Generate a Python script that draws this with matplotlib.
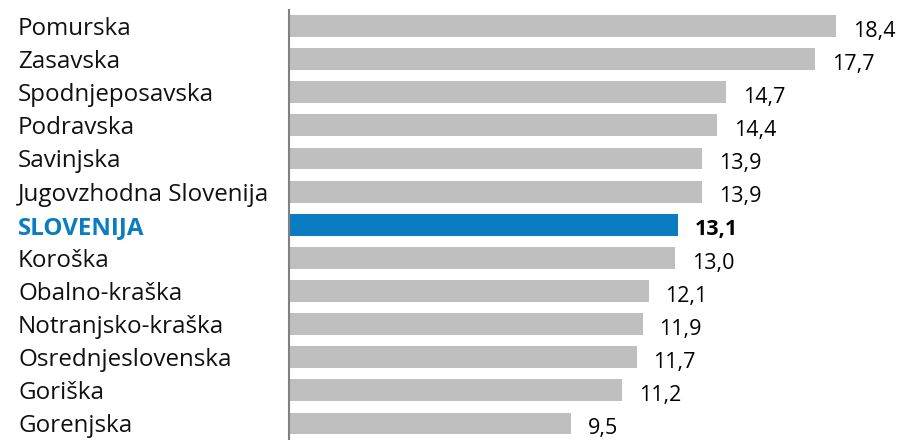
import matplotlib.pyplot as plt

# regions and their values
regije = ["Pomurska", "Zasavska", "Spodnjeposavska", "Podravska", "Savinjska",
          "Jugovzhodna Slovenija", "SLOVENIJA", "Koroška", "Obalno-kraška",
          "Notranjsko-kraška", "Osrednjeslovenska", "Goriška", "Gorenjska"]
vrednosti = [18.4, 17.7, 14.7, 14.4, 13.9, 13.9, 13.1, 13.0, 12.1, 11.9, 11.7, 11.2, 9.5]
poudarek = "SLOVENIJA"

SIVA = "#bfbfbf"
MODRA = "#0a7dc2"

plt.rcParams['font.family'] = ['Open Sans', 'DejaVu Sans']

fig = plt.figure(figsize=(9.02, 4.40), dpi=100)
ax = fig.add_axes([289 / 902, 0, (902 - 289) / 902, 430 / 440])

pos = list(range(len(regije)))
barve = [MODRA if r == poudarek else SIVA for r in regije]
ax.barh(pos, vrednosti, height=0.66, color=barve)

for i, (r, v) in enumerate(zip(regije, vrednosti)):
    txt = f"{v:.1f}".replace(".", ",")
    bold = r == poudarek
    ax.annotate(txt, (v, i), xytext=(12, -2), textcoords="offset points",
                va="center_baseline", ha="left", fontsize=15.5,
                fontweight="bold" if bold else "normal", color="black")
    ax.annotate(r, (0, i), xytext=(-271 * 0.72, 0), textcoords="offset points",
                ha="left", va="center_baseline", fontsize=17.4,
                color=MODRA if bold else "#111111",
                fontweight="bold" if bold else "normal")

ax.set_xlim(0, (902 - 289) / 29.73)
ax.set_ylim(12.5, -0.483)
for s in ["top", "right", "bottom"]:
    ax.spines[s].set_visible(False)
ax.spines["left"].set_color("#808080")
ax.spines["left"].set_linewidth(1.5)
ax.set_xticks([])
ax.set_yticks([])

fig.savefig("out.png", dpi=100)
